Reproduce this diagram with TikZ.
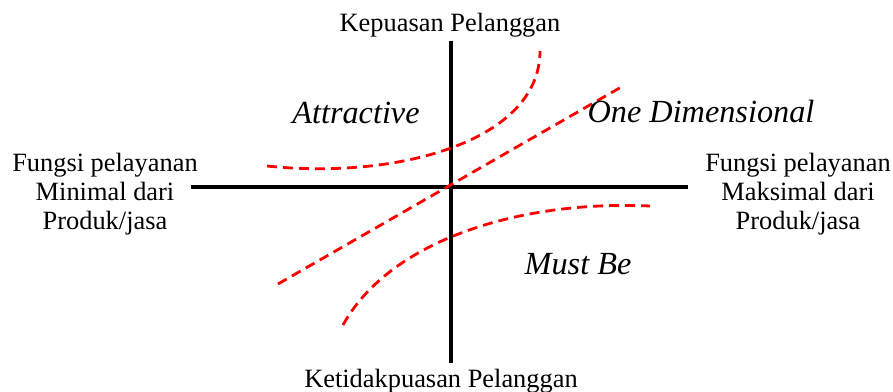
\documentclass[tikz,border=0pt]{standalone}
\usepackage{fontspec}
\setmainfont{Liberation Serif}
\begin{document}
\begin{tikzpicture}[x=0.75pt,y=-0.75pt,
  axis/.style={line width=2.5pt,black},
  kano/.style={line width=2.1pt,red,dash pattern=on 7.5pt off 4.5pt},
  lbl/.style={anchor=base,inner sep=0pt,font=\fontsize{19.8}{21.75}\selectfont},
  qlbl/.style={anchor=base,inner sep=0pt,font=\fontsize{24.2}{26}\selectfont\itshape}]
\useasboundingbox (0,0) rectangle (893,392);
% axes
\coordinate (xl) at (191,187);
\coordinate (xr) at (688,187);
\coordinate (yt) at (451,41);
\coordinate (yb) at (451,363);
\draw[axis] (xl) -- (xr);
\draw[axis] (yt) -- (yb);
% curves
\coordinate (a0) at (267,166);
\coordinate (a1) at (540,51);
\coordinate (d0) at (278,284);
\coordinate (d1) at (623,86);
\coordinate (m0) at (343,325);
\coordinate (m1) at (650,206);
\draw[kano] (a0) .. controls (400,180) and (540,140) .. (a1);
\draw[kano] (d0) -- (d1);
\draw[kano] (m0) .. controls (390,240) and (520,200) .. (m1);
% labels
\node[lbl] (top) at (450,32) {Kepuasan Pelanggan};
\node[lbl] (bot) at (441,387) {Ketidakpuasan Pelanggan};
\node[lbl,align=center] (left) at (105,229.5) {Fungsi pelayanan\\Minimal dari\\Produk/jasa};
\node[lbl,align=center] (right) at (798,229.5) {Fungsi pelayanan\\Maksimal dari\\Produk/jasa};
\node[qlbl] (attr) at (356,124) {Attractive};
\node[qlbl] (one) at (701,123) {One Dimensional};
\node[qlbl] (must) at (578,275) {Must Be};
\end{tikzpicture}
\end{document}
